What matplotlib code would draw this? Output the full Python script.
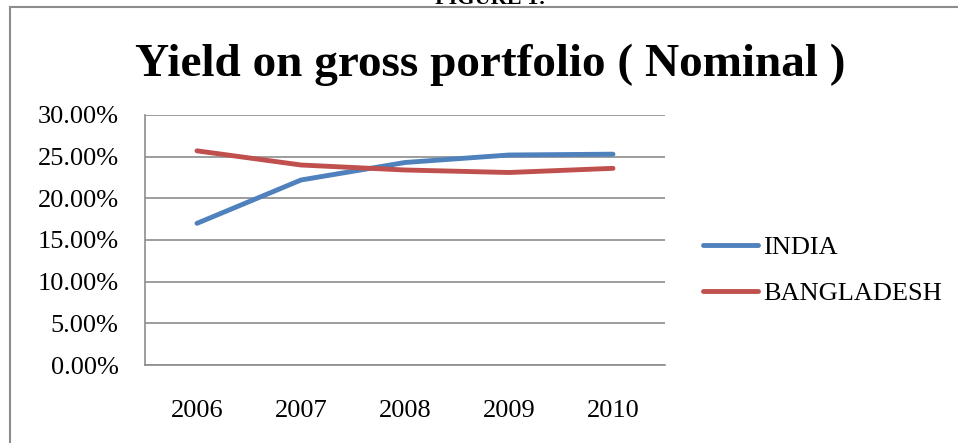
import matplotlib
matplotlib.use("Agg")
import matplotlib.pyplot as plt
from matplotlib.lines import Line2D

years = ["2006", "2007", "2008", "2009", "2010"]
india = [17.0, 22.2, 24.3, 25.2, 25.3]
bangladesh = [25.7, 24.0, 23.4, 23.1, 23.6]
yticks = [0, 5, 10, 15, 20, 25, 30]
series_names = ["INDIA", "BANGLADESH"]

W, H = 958, 443
fig = plt.figure(figsize=(W / 100, H / 100), dpi=100)
serif = "Liberation Serif"

ax = fig.add_axes([145 / W, 1 - 365 / H, 520 / W, 250 / H])
x = list(range(len(years)))
ax.plot(x, india, color="#4F81BD", lw=3.5, solid_capstyle="round", label=series_names[0])
ax.plot(x, bangladesh, color="#C0504D", lw=3.5, solid_capstyle="round", label=series_names[1])
ax.set_xlim(-0.5, len(years) - 0.5)
ax.set_ylim(0, 30)
ax.set_yticks(yticks)
ax.set_yticklabels([f"{v:.2f}%" for v in yticks], fontfamily=serif, fontsize=19)
ax.set_xticks(x)
ax.set_xticklabels(years, fontfamily=serif, fontsize=19)
ax.tick_params(axis="y", length=0, pad=19)
ax.tick_params(axis="x", length=0, pad=25)
ax.grid(axis="y", color="#8c8c8c", lw=1.2)
ax.set_axisbelow(True)
for s in ["top", "right"]:
    ax.spines[s].set_visible(False)
for s in ["left", "bottom"]:
    ax.spines[s].set_color("#8c8c8c")
    ax.spines[s].set_linewidth(1.2)

leg = fig.legend(loc="upper left", bbox_to_anchor=(703 / W, 1 - 236 / H),
                 frameon=False, prop={"family": serif, "size": 19},
                 borderpad=0, borderaxespad=0,
                 handlelength=2.08, handletextpad=0.2, labelspacing=0.85)

fig.text(490 / W, 1 - 76 / H, "Yield on gross portfolio ( Nominal )",
         ha="center", va="baseline", fontfamily=serif, fontweight="bold", fontsize=34)
fig.text(490 / W, 1 - 4 / H, "FIGURE 1:", ha="center", va="baseline",
         fontfamily=serif, fontweight="bold", fontsize=16)

fig.add_artist(Line2D([10 / W, 10 / W], [0, 1 - 7 / H], transform=fig.transFigure,
                      color="#8c8c8c", lw=1.5))
fig.add_artist(Line2D([10 / W, 1], [1 - 7 / H, 1 - 7 / H], transform=fig.transFigure,
                      color="#8c8c8c", lw=1.5))

fig.savefig("out.png", dpi=100)
